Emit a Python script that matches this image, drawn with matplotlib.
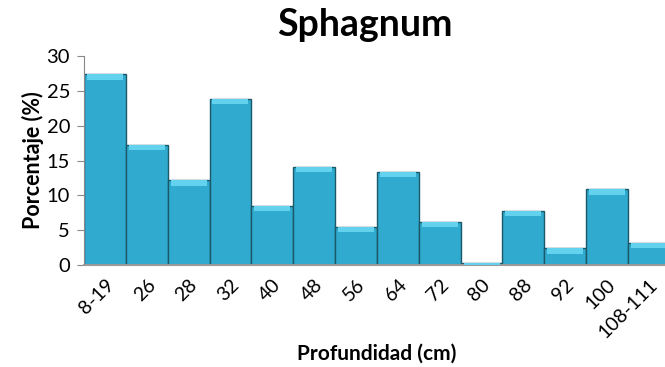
import matplotlib.pyplot as plt
import numpy as np

plt.rcParams["font.family"] = ["Lato", "DejaVu Sans"]

depths = ["8-19", "26", "28", "32", "40", "48", "56", "64", "72", "80", "88",
          "92", "100", "108-111"]
percent = [27.4, 17.3, 12.2, 23.9, 8.5, 14.1, 5.5, 13.4, 6.2, 0.3, 7.8,
           2.4, 10.9, 3.2]

fig = plt.figure(figsize=(6.65, 3.67), dpi=100)
ax = fig.add_axes([0.1263, 0.278, 0.881, 0.569])

x = np.arange(len(depths))
ax.bar(x, percent, width=1.0, color="#30AACE", edgecolor="#1B5868",
       linewidth=1.0, zorder=2)
# lighter bevel strip at the top of each bar
cap = [min(v, 0.8) for v in percent]
ax.bar(x, cap, width=0.86, bottom=np.array(percent) - np.array(cap),
       color="#62D2EE", linewidth=0, zorder=3)

ax.set_xlim(-0.5, len(depths) - 0.5)
ax.set_ylim(0, 30)
ax.set_yticks(range(0, 31, 5))
ax.set_xticks(x)
ax.set_xticklabels(depths, rotation=45, ha="right", rotation_mode="anchor")

for s in ["top", "right"]:
    ax.spines[s].set_visible(False)
ax.spines["left"].set_color("#888888")
ax.spines["bottom"].set_color("#999999")
ax.spines["bottom"].set_linewidth(1.5)
ax.tick_params(axis="y", length=5, color="#888888", labelsize=14.5, pad=5)
ax.tick_params(axis="x", length=0, labelsize=14, pad=8)

ax.set_ylabel("Porcentaje (%)", fontsize=15.5, fontweight="bold", labelpad=2)
ax.set_xlabel("Profundidad (cm)", fontsize=15, fontweight="bold", labelpad=2)
fig.text(0.549, 0.932, "Sphagnum", fontsize=27, fontweight="bold",
         ha="center", va="center")

fig.savefig("out.png", dpi=100)
